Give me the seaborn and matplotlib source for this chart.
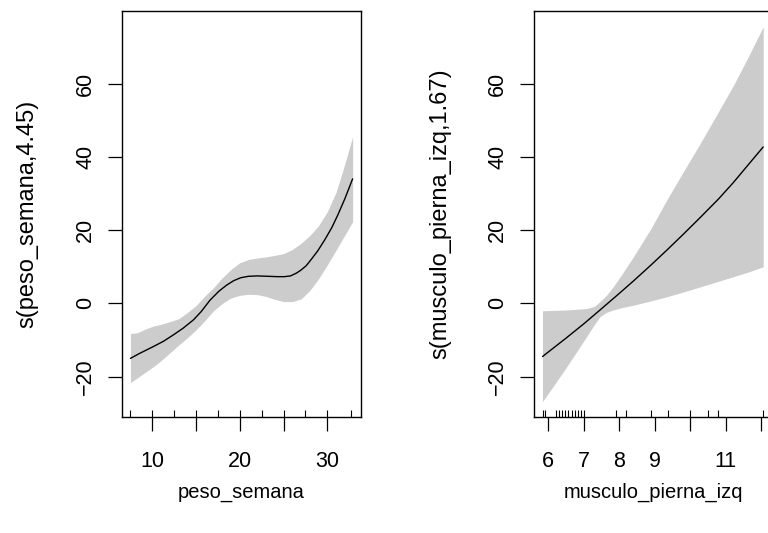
import matplotlib
matplotlib.use("Agg")
import matplotlib.pyplot as plt
import seaborn as sns
import numpy as np

sns.set_style("white")
plt.rcParams['font.family'] = ['Liberation Sans', 'DejaVu Sans']

# ---- Panel 1: peso_semana ----
peso_fit_x = [7.5, 8.5, 10.1, 11.3, 12.4, 13.5, 14.7, 15.6, 16.6, 17.6, 18.5, 19.3, 20.1, 21.0,
              22.0, 23.2, 24.3, 25.1, 25.8, 26.5, 27.0, 27.6, 28.1, 28.9, 29.7, 30.5, 31.2, 32.0, 32.9]
peso_fit_y = [-15.0, -13.7, -11.8, -10.3, -8.6, -6.8, -4.5, -2.2, 0.9, 3.3, 5.0, 6.2, 7.0, 7.4,
              7.5, 7.4, 7.3, 7.3, 7.5, 8.3, 9.1, 10.3, 11.8, 14.3, 17.3, 20.6, 24.1, 28.5, 34.0]
peso_band_x = [7.5, 8.3, 9.2, 10.1, 11.0, 12.0, 13.0, 14.0, 15.0, 16.0, 17.0, 18.0, 19.0, 20.0,
               21.0, 22.0, 23.0, 24.0, 25.0, 26.0, 27.0, 28.0, 29.0, 30.0, 31.0, 32.0, 32.9]
peso_upper = [-8.2, -8.0, -7.0, -6.2, -5.7, -5.0, -4.2, -2.5, -0.6, 2.0, 4.3, 7.0, 9.3, 11.1,
              12.0, 12.4, 12.7, 13.1, 13.6, 14.7, 16.4, 18.5, 21.2, 25.0, 30.3, 38.0, 45.5]
peso_lower = [-21.6, -20.3, -18.8, -17.3, -15.6, -13.5, -11.4, -9.4, -7.2, -4.7, -2.0, 0.0, 1.5, 2.2,
              2.5, 2.4, 1.9, 1.1, 0.5, 0.5, 1.2, 3.5, 6.7, 10.5, 14.5, 18.6, 22.3]
peso_rug = [7.5, 10.0, 12.5, 15.0, 17.5, 20.0, 22.5, 25.0, 27.5, 30.0, 32.7]
peso_ticks = [10, 15, 20, 25, 30]
peso_ticklabels = ['10', '', '20', '', '30']

# ---- Panel 2: musculo_pierna_izq ----
musc_fit_x = [5.84, 6.5, 7.0, 7.46, 8.0, 8.4, 8.9, 9.34, 9.8, 10.28, 10.8, 11.22, 11.6, 12.06]
musc_fit_y = [-14.5, -9.5, -5.6, -1.8, 2.7, 6.1, 10.5, 14.5, 18.8, 23.4, 28.5, 33.0, 37.4, 42.7]
musc_band_x = [5.84, 6.2, 6.5, 6.8, 7.08, 7.3, 7.46, 7.65, 7.83, 8.1, 8.4, 8.9, 9.34, 9.8,
               10.28, 10.75, 11.22, 11.65, 12.06]
musc_upper = [-2.0, -1.9, -1.8, -1.6, -1.4, -0.8, 0.5, 2.3, 4.5, 8.3, 12.7, 20.5, 28.2, 35.8,
              43.6, 51.5, 59.5, 67.5, 75.5]
musc_lower = [-26.8, -21.8, -17.6, -13.2, -9.1, -5.8, -3.6, -2.4, -1.8, -1.1, -0.5, 0.7, 1.8, 3.1,
              4.5, 5.9, 7.3, 8.6, 10.0]
musc_rug = [5.84, 5.90, 6.21, 6.30, 6.39, 6.48, 6.57, 6.66, 6.75, 6.84, 6.93, 7.0,
            7.9, 8.19, 8.89, 9.39, 10.0, 10.49, 10.79, 12.05]
musc_ticks = [6, 7, 8, 9, 10, 11, 12]
musc_ticklabels = ['6', '7', '8', '9', '', '11', '']

y_ticks = [-20, 0, 20, 40, 60]
y_ticklabels = ['\u221220', '0', '20', '40', '60']

panels = [
    dict(fx=peso_fit_x, fy=peso_fit_y, bx=peso_band_x, up=peso_upper, lo=peso_lower,
         rug=peso_rug, ticks=peso_ticks, tl=peso_ticklabels, xlim=(6.5, 33.8),
         xlabel='peso_semana', ylabel='s(peso_semana,4.45)', left=121.7),
    dict(fx=musc_fit_x, fy=musc_fit_y, bx=musc_band_x, up=musc_upper, lo=musc_lower,
         rug=musc_rug, ticks=musc_ticks, tl=musc_ticklabels, xlim=(5.6, 12.33),
         xlabel='musculo_pierna_izq', ylabel='s(musculo_pierna_izq,1.67)', left=534.0),
]

W, H = 768, 533
fig = plt.figure(figsize=(W / 100, H / 100), dpi=100)
ax_w = 238.8
top, bottom = 11.0, 417.0
FS_TICK = 15.5
FS_XLAB = 14.5
FS_YLAB = 17

for p in panels:
    ax = fig.add_axes([p['left'] / W, 1 - bottom / H, ax_w / W, (bottom - top) / H])
    ax.fill_between(p['bx'], p['lo'], p['up'], color='#cccccc', linewidth=0)
    sns.lineplot(x=p['fx'], y=p['fy'], ax=ax, color='black', linewidth=1.0)
    ax.vlines(p['rug'], 0, 7.5 / (bottom - top), transform=ax.get_xaxis_transform(),
              color='black', linewidth=0.8)
    ax.set_xlim(*p['xlim'])
    ax.set_ylim(-31.0, 79.8)
    ax.set_xticks(p['ticks'])
    ax.set_xticklabels(p['tl'])
    ax.set_yticks(y_ticks)
    ax.set_yticklabels(y_ticklabels, rotation=90, va='center')
    ax.tick_params(axis='both', direction='out', length=10, width=0.9, color='black',
                   labelsize=FS_TICK, labelcolor='black', bottom=True, left=True,
                   top=False, right=False)
    ax.tick_params(axis='x', pad=14.5)
    ax.tick_params(axis='y', pad=8.5)
    for s in ax.spines.values():
        s.set_visible(True)
        s.set_color('black')
        s.set_linewidth(1.0)
    ax.set_xlabel(p['xlabel'], fontsize=FS_XLAB, va='center', color='black')
    ax.xaxis.set_label_coords(0.5, -(492 - bottom) / (bottom - top))
    ax.set_ylabel(p['ylabel'], fontsize=FS_YLAB, va='center', color='black')
    ax.yaxis.set_label_coords(-94 / ax_w, 0.5)
    ax.set_facecolor('white')

fig.savefig('out.png', dpi=100, facecolor='white')
